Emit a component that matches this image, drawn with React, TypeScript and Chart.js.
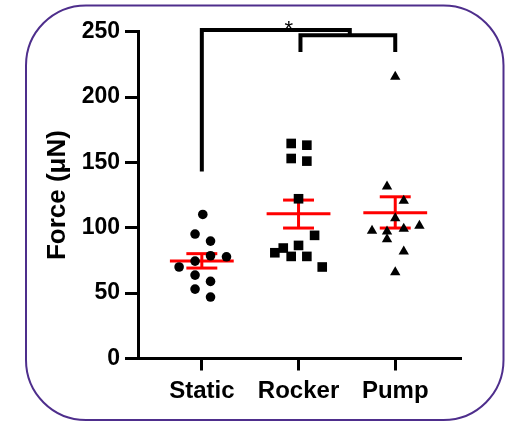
import React, { useEffect, useRef } from "react";
import { Chart, registerables } from "chart.js";

Chart.register(...registerables);

const categories = ["Static", "Rocker", "Pump"];

const staticValues = [110.2, 95.2, 89.8, 78.6, 77.8, 70, 74.5, 63.8, 59, 53.1, 47];
const staticJitter = [0.01, -0.07, 0.09, 0.09, 0.255, -0.235, -0.07, -0.07, 0.09, -0.07, 0.09];

const rockerValues = [164.5, 163.2, 153, 151, 122.2, 94.2, 86.5, 84.5, 80.9, 78.1, 78.1, 70];
const rockerJitter = [-0.076, 0.086, -0.076, 0.086, 0, 0.166, 0, -0.158, -0.245, -0.076, 0.086, 0.245];

const pumpValues = [215.6, 131.5, 120.6, 107.3, 97.7, 97.1, 91.3, 99.2, 101.5, 81.9, 66];
const pumpJitter = [0, -0.085, 0.088, 0, -0.24, -0.085, -0.085, 0.088, 0.25, 0.088, 0];

const means = [74.5, 110.7, 111.5];
const semLow = [69.2, 99.8, 99.8];
const semHigh = [80.2, 121.2, 123.7];

// significance brackets (x in category units, y in µN)
const bracket1X = [0, 0, 1.53, 1.53];
const bracket1Y = [143, 251.3, 251.3, 247.2];
const bracket2X = [1.02, 1.02, 2.0, 2.0];
const bracket2Y = [234.5, 247.2, 247.2, 234.5];
const starLabel = "*";
const starX = 0.9;
const starY = 256.3;

const yTicks = [0, 50, 100, 150, 200, 250];

const MEAN_HALF = 0.33;
const CAP_HALF = 0.16;
const FONT = "'Liberation Sans', Arial, sans-serif";

export default function App() {
  const ref = useRef<HTMLCanvasElement | null>(null);

  useEffect(() => {
    const canvas = ref.current;
    if (!canvas) return;

    const pts = (vals: number[], jit: number[], c: number) =>
      vals.map((v, i) => ({ x: c + jit[i], y: v }));

    const seg = (data: { x: number; y: number }[], color: string, width: number) => ({
      type: "scatter" as const,
      data,
      showLine: true,
      borderColor: color,
      borderWidth: width,
      pointRadius: 0,
      pointHoverRadius: 0,
      borderCapStyle: "butt" as const,
      borderJoinStyle: "miter" as const,
      clip: false as any,
      order: 2,
    });

    const redSegs: any[] = [];
    means.forEach((m, c) => {
      redSegs.push(seg([{ x: c - MEAN_HALF, y: m }, { x: c + MEAN_HALF, y: m }], "#ff0000", 3));
      redSegs.push(seg([{ x: c, y: semLow[c] }, { x: c, y: semHigh[c] }], "#ff0000", 3));
      redSegs.push(seg([{ x: c - CAP_HALF, y: semLow[c] }, { x: c + CAP_HALF, y: semLow[c] }], "#ff0000", 3));
      redSegs.push(seg([{ x: c - CAP_HALF, y: semHigh[c] }, { x: c + CAP_HALF, y: semHigh[c] }], "#ff0000", 3));
    });

    const b1 = seg(bracket1X.map((x, i) => ({ x, y: bracket1Y[i] })), "#000000", 4);
    const b2 = seg(bracket2X.map((x, i) => ({ x, y: bracket2Y[i] })), "#000000", 4);

    const pointSet = (data: any[], style: string, r: number) => ({
      type: "scatter" as const,
      data,
      pointStyle: style,
      pointRadius: r,
      pointHoverRadius: r,
      pointBackgroundColor: "#000000",
      pointBorderColor: "#000000",
      pointBorderWidth: 0,
      showLine: false,
      order: 0,
      clip: false as any,
    });

    const framePlugin = {
      id: "frame",
      beforeDraw(chart: any) {
        const ctx = chart.ctx;
        ctx.save();
        ctx.fillStyle = "#ffffff";
        ctx.fillRect(0, 0, chart.width, chart.height);
        ctx.beginPath();
        ctx.roundRect(26, 5.5, 477.5, 414.5, 60);
        ctx.strokeStyle = "#4e2e8c";
        ctx.lineWidth = 2;
        ctx.stroke();
        ctx.restore();
      },
      afterDraw(chart: any) {
        const ctx = chart.ctx;
        const xs = chart.scales.x;
        const ys = chart.scales.y;
        const size = 22;
        ctx.save();
        ctx.font = `normal ${size}px ${FONT}`;
        ctx.fillStyle = "#000000";
        ctx.textAlign = "center";
        ctx.textBaseline = "alphabetic";
        ctx.fillText(starLabel, xs.getPixelForValue(starX), ys.getPixelForValue(starY) + 0.58 * size);
        ctx.restore();
      },
    };

    const chart = new Chart(canvas, {
      type: "scatter",
      data: {
        datasets: [
          pointSet(pts(staticValues, staticJitter, 0), "circle", 4.8),
          pointSet(pts(rockerValues, rockerJitter, 1), "rect", 6.8),
          pointSet(pts(pumpValues, pumpJitter, 2), "triangle", 6),
          ...redSegs,
          b1,
          b2,
        ] as any,
      },
      options: {
        responsive: false,
        devicePixelRatio: 1,
        animation: false,
        events: [],
        layout: { padding: { left: 0, top: 31.7, right: 46, bottom: 0 } },
        plugins: { legend: { display: false }, tooltip: { enabled: false } },
        scales: {
          x: {
            type: "linear",
            min: -0.66,
            max: 2.68,
            afterFit: (s: any) => {
              s.height = 63.5;
            },
            afterBuildTicks: (axis: any) => {
              axis.ticks = categories.map((_, i) => ({ value: i }));
            },
            ticks: {
              callback: (v: any) => categories[v as number] ?? "",
              font: { family: FONT, size: 24, weight: "bold" },
              color: "#000000",
              padding: 6,
              maxRotation: 0,
              autoSkip: false,
            },
            grid: {
              drawOnChartArea: false,
              drawTicks: true,
              tickLength: 12,
              tickWidth: 3,
              tickColor: "#000000",
            },
            border: { display: true, width: 3, color: "#000000" },
          },
          y: {
            type: "linear",
            min: 0,
            max: 250,
            afterFit: (s: any) => {
              s.width = 138;
            },
            afterBuildTicks: (axis: any) => {
              axis.ticks = yTicks.map((v) => ({ value: v }));
            },
            ticks: {
              font: { family: FONT, size: 23, weight: "bold" },
              color: "#000000",
              padding: 5,
            },
            grid: {
              drawOnChartArea: false,
              drawTicks: true,
              tickLength: 13,
              tickWidth: 3,
              tickColor: "#000000",
            },
            border: { display: true, width: 3, color: "#000000" },
            title: {
              display: true,
              text: "Force (μN)",
              font: { family: FONT, size: 26, weight: "bold" },
              color: "#000000",
              padding: { top: 42, bottom: 0 },
            },
          },
        },
      },
      plugins: [framePlugin],
    });

    return () => chart.destroy();
  }, []);

  return (
    <div style={{ position: "fixed", left: 0, top: 0, width: 507, height: 422, background: "#ffffff" }}>
      <canvas ref={ref} width={507} height={422} style={{ display: "block", width: 507, height: 422 }} />
    </div>
  );
}
